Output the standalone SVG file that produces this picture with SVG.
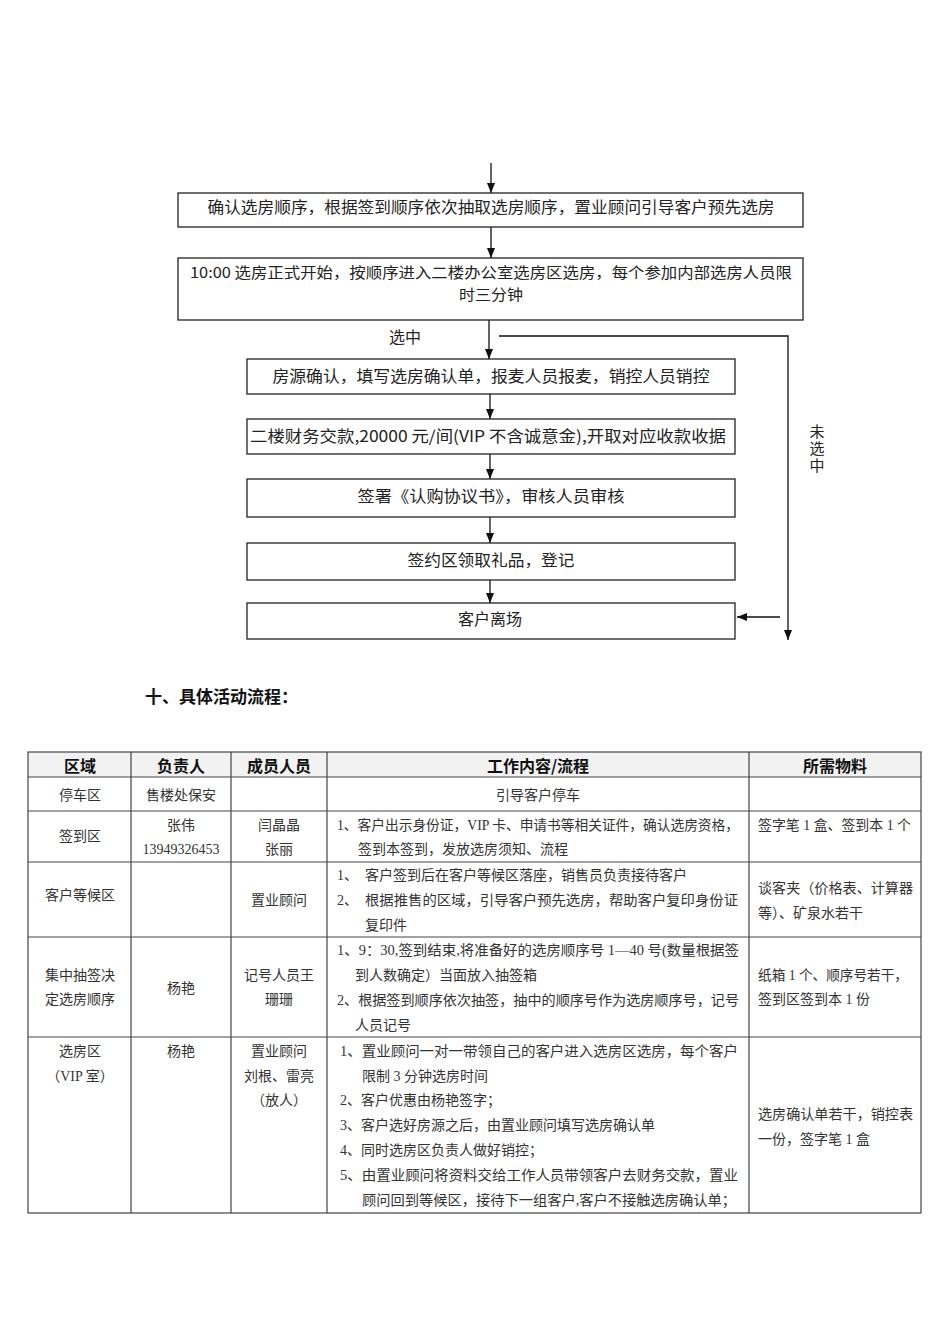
<svg xmlns="http://www.w3.org/2000/svg" width="950" height="1344" viewBox="0 0 950 1344">
<defs>
<marker id="ah" markerWidth="10" markerHeight="10" viewBox="0 0 10 10" refX="10" refY="5" orient="auto" markerUnits="userSpaceOnUse">
<path d="M0,1 L10,5 L0,9 Z" fill="#111"/>
</marker>
<style>
.box{fill:#fff;stroke:#222;stroke-width:1.3}
.ft{font-family:"Noto Sans CJK SC","Noto Sans",sans-serif;font-size:16px;fill:#222;text-anchor:middle;dominant-baseline:central}
.con{fill:none;stroke:#111;stroke-width:1.3}
.tl{stroke:#444;stroke-width:1.2;fill:none}
.th{font-family:"Noto Sans CJK SC",sans-serif;font-size:16px;font-weight:bold;fill:#111;text-anchor:middle;dominant-baseline:central}
.tc{font-family:"Liberation Serif","Noto Sans CJK SC",serif;font-size:14px;fill:#333;text-anchor:middle;dominant-baseline:central}
.tx{font-family:"Liberation Serif","Noto Sans CJK SC",serif;font-size:14px;fill:#333;dominant-baseline:central}
.hd{font-family:"Noto Sans CJK SC",sans-serif;font-size:17px;font-weight:bold;fill:#111;dominant-baseline:central}
</style>
</defs>
<rect width="950" height="1344" fill="#fff"/>

<g id="connectors">
<line class="con" x1="491" y1="163" x2="491" y2="193" marker-end="url(#ah)"/>
<line class="con" x1="491" y1="227" x2="491" y2="258" marker-end="url(#ah)"/>
<line class="con" x1="489" y1="320" x2="489" y2="359" marker-end="url(#ah)"/>
<line class="con" x1="490" y1="394" x2="490" y2="419" marker-end="url(#ah)"/>
<line class="con" x1="490" y1="454" x2="490" y2="479" marker-end="url(#ah)"/>
<line class="con" x1="490" y1="517" x2="490" y2="543" marker-end="url(#ah)"/>
<line class="con" x1="490" y1="580" x2="490" y2="603" marker-end="url(#ah)"/>
<path class="con" d="M499,336 H788 V640" marker-end="url(#ah)"/>
<line class="con" x1="780" y1="617" x2="737" y2="617" marker-end="url(#ah)"/>
<text class="ft" x="405" y="336">选中</text>
<text x="817" y="424" writing-mode="tb" style="font-family:'Noto Sans CJK SC',sans-serif;font-size:15px;fill:#222;letter-spacing:2px">未选中</text>
</g>

<g id="n1">
<rect class="box" x="178" y="193" width="625" height="34"/>
<text class="ft" x="491" y="206" textLength="567" lengthAdjust="spacingAndGlyphs">确认选房顺序，根据签到顺序依次抽取选房顺序，置业顾问引导客户预先选房</text>
</g>
<g id="n2">
<rect class="box" x="178" y="258" width="625" height="62"/>
<text class="ft" x="491" y="271" style="font-size:15px" textLength="602" lengthAdjust="spacingAndGlyphs">10:00 选房正式开始，按顺序进入二楼办公室选房区选房，每个参加内部选房人员限</text>
<text class="ft" x="491" y="293" style="font-size:15px" textLength="64" lengthAdjust="spacingAndGlyphs">时三分钟</text>
</g>
<g id="n3">
<rect class="box" x="247" y="359" width="488" height="35"/>
<text class="ft" x="491" y="375" textLength="437" lengthAdjust="spacingAndGlyphs">房源确认，填写选房确认单，报麦人员报麦，销控人员销控</text>
</g>
<g id="n4">
<rect class="box" x="247" y="419" width="488" height="35"/>
<text class="ft" x="488" y="435" textLength="476" lengthAdjust="spacingAndGlyphs">二楼财务交款,20000 元/间(VIP 不含诚意金),开取对应收款收据</text>
</g>
<g id="n5">
<rect class="box" x="247" y="479" width="488" height="38"/>
<text class="ft" x="491" y="495" textLength="267" lengthAdjust="spacingAndGlyphs">签署《认购协议书》，审核人员审核</text>
</g>
<g id="n6">
<rect class="box" x="247" y="543" width="488" height="37"/>
<text class="ft" x="491" y="559" textLength="167" lengthAdjust="spacingAndGlyphs">签约区领取礼品，登记</text>
</g>
<g id="n7">
<rect class="box" x="247" y="603" width="488" height="36"/>
<text class="ft" x="490" y="618">客户离场</text>
</g>

<text class="hd" x="145" y="695">十、具体活动流程：</text>

<g id="table">
<rect x="28" y="752" width="893" height="25" fill="#f2f2f2"/>
<rect class="tl" x="28" y="752" width="893" height="461"/>
<line class="tl" x1="28" y1="777" x2="921" y2="777"/>
<line class="tl" x1="28" y1="811" x2="921" y2="811"/>
<line class="tl" x1="28" y1="862" x2="921" y2="862"/>
<line class="tl" x1="28" y1="937" x2="921" y2="937"/>
<line class="tl" x1="28" y1="1037" x2="921" y2="1037"/>
<line class="tl" x1="131" y1="752" x2="131" y2="1213"/>
<line class="tl" x1="231" y1="752" x2="231" y2="1213"/>
<line class="tl" x1="327" y1="752" x2="327" y2="1213"/>
<line class="tl" x1="749" y1="752" x2="749" y2="1213"/>

<text class="th" x="80" y="765">区域</text>
<text class="th" x="181" y="765">负责人</text>
<text class="th" x="279" y="765">成员人员</text>
<text class="th" x="538" y="765">工作内容/流程</text>
<text class="th" x="835" y="765">所需物料</text>

<text class="tc" x="80" y="795">停车区</text>
<text class="tc" x="181" y="795">售楼处保安</text>
<text class="tc" x="538" y="795">引导客户停车</text>

<text class="tc" x="80" y="836">签到区</text>
<text class="tc" x="181" y="825">张伟</text>
<text class="tc" x="181" y="849">13949326453</text>
<text class="tc" x="279" y="825">闫晶晶</text>
<text class="tc" x="279" y="849">张丽</text>
<text class="tx" x="337" y="825" textLength="402" lengthAdjust="spacingAndGlyphs">1、客户出示身份证，VIP 卡、申请书等相关证件，确认选房资格，</text>
<text class="tx" x="358" y="849">签到本签到，发放选房须知、流程</text>
<text class="tx" x="758" y="825" textLength="153" lengthAdjust="spacingAndGlyphs">签字笔 1 盒、签到本 1 个</text>

<text class="tc" x="80" y="895">客户等候区</text>
<text class="tc" x="279" y="900">置业顾问</text>
<text class="tx" x="337" y="875">1、</text>
<text class="tx" x="365" y="875">客户签到后在客户等候区落座，销售员负责接待客户</text>
<text class="tx" x="337" y="900">2、</text>
<text class="tx" x="365" y="900" textLength="373" lengthAdjust="spacingAndGlyphs">根据推售的区域，引导客户预先选房，帮助客户复印身份证</text>
<text class="tx" x="365" y="925">复印件</text>
<text class="tx" x="758" y="888" textLength="155" lengthAdjust="spacingAndGlyphs">谈客夹（价格表、计算器</text>
<text class="tx" x="758" y="913">等）、矿泉水若干</text>

<text class="tc" x="80" y="975">集中抽签决</text>
<text class="tc" x="80" y="999">定选房顺序</text>
<text class="tc" x="181" y="988">杨艳</text>
<text class="tc" x="279" y="975">记号人员王</text>
<text class="tc" x="279" y="999">珊珊</text>
<text class="tx" x="337" y="950" textLength="402" lengthAdjust="spacingAndGlyphs">1、9：30,签到结束,将准备好的选房顺序号 1—40 号(数量根据签</text>
<text class="tx" x="355" y="975">到人数确定）当面放入抽签箱</text>
<text class="tx" x="337" y="1000" textLength="402" lengthAdjust="spacingAndGlyphs">2、根据签到顺序依次抽签，抽中的顺序号作为选房顺序号，记号</text>
<text class="tx" x="355" y="1025">人员记号</text>
<text class="tx" x="758" y="975" textLength="150" lengthAdjust="spacingAndGlyphs">纸箱 1 个、顺序号若干，</text>
<text class="tx" x="758" y="999">签到区签到本 1 份</text>

<text class="tc" x="80" y="1051">选房区</text>
<text class="tc" x="80" y="1076">（VIP 室）</text>
<text class="tc" x="181" y="1051">杨艳</text>
<text class="tc" x="279" y="1051">置业顾问</text>
<text class="tc" x="279" y="1076">刘根、雷亮</text>
<text class="tc" x="279" y="1100">（放人）</text>
<text class="tx" x="340" y="1051" textLength="398" lengthAdjust="spacingAndGlyphs">1、置业顾问一对一带领自己的客户进入选房区选房，每个客户</text>
<text class="tx" x="362" y="1076">限制 3 分钟选房时间</text>
<text class="tx" x="340" y="1100">2、客户优惠由杨艳签字；</text>
<text class="tx" x="340" y="1125">3、客户选好房源之后，由置业顾问填写选房确认单</text>
<text class="tx" x="340" y="1150">4、同时选房区负责人做好销控；</text>
<text class="tx" x="340" y="1175" textLength="398" lengthAdjust="spacingAndGlyphs">5、由置业顾问将资料交给工作人员带领客户去财务交款，置业</text>
<text class="tx" x="362" y="1200" textLength="374" lengthAdjust="spacingAndGlyphs">顾问回到等候区，接待下一组客户,客户不接触选房确认单；</text>
<text class="tx" x="758" y="1114" textLength="155" lengthAdjust="spacingAndGlyphs">选房确认单若干，销控表</text>
<text class="tx" x="758" y="1139">一份，签字笔 1 盒</text>
</g>
</svg>
